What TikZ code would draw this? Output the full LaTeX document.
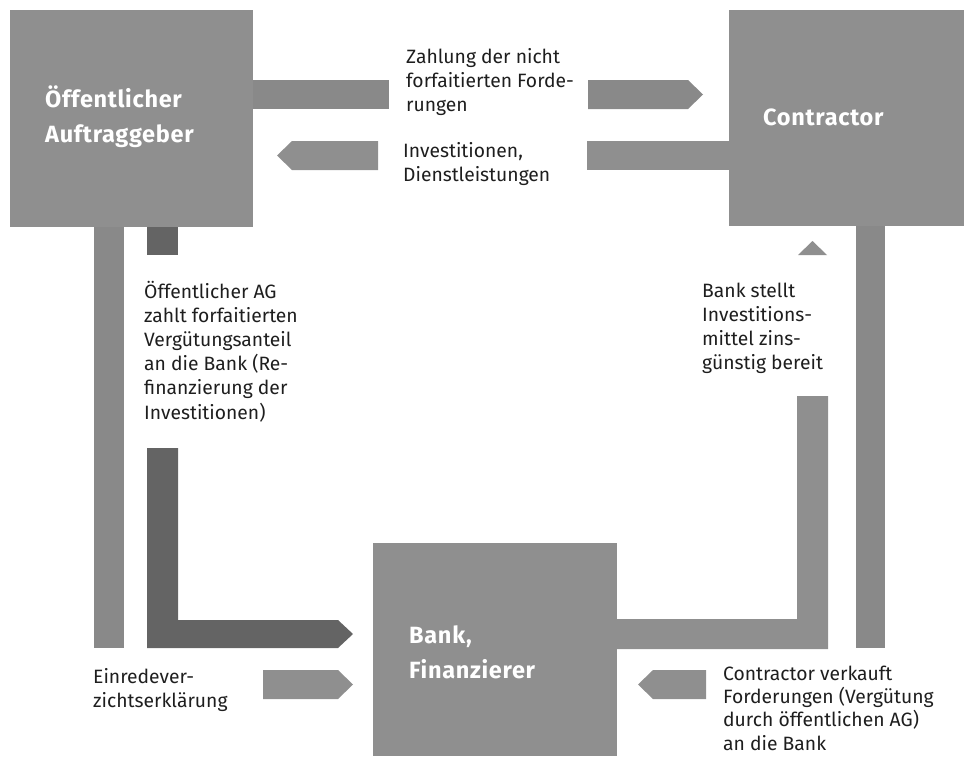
\documentclass[tikz,border=0pt]{standalone}
\usepackage{fontspec}
\setmainfont{Fira Sans}
\newfontfamily\headfont{Fira Sans}[LetterSpace=3]
\definecolor{boxgray}{HTML}{8F8F8F}
\definecolor{bandgray}{HTML}{898989}
\definecolor{darkband}{HTML}{646464}
\definecolor{txt}{HTML}{1E1E1E}
\newcommand{\mlines}[1]{\begin{tabular}[t]{@{}l@{}}#1\end{tabular}}
\begin{document}
\begin{tikzpicture}[x=1pt,y=-1pt,
  box/.style={fill=boxgray,draw=none,inner sep=0pt,outer sep=0pt},
  band/.style={fill=bandgray,draw=none},
  band2/.style={fill=boxgray,draw=none},
  darkb/.style={fill=darkband,draw=none},
  head/.style={anchor=base west,inner sep=0pt,text=white,font=\headfont\bfseries\fontsize{23.5}{35}\selectfont},
  lbl/.style={anchor=base west,inner sep=0pt,text=txt,font=\fontsize{19.3}{24.2}\selectfont}]
\useasboundingbox (0,0) rectangle (964,756);
% boxes
\node[box,minimum width=243pt,minimum height=217pt] (oa) at (131.5,118.5) {};
\node[box,minimum width=235pt,minimum height=216pt] (con) at (846.5,118) {};
\node[box,minimum width=244pt,minimum height=213pt] (bank) at (495,649.5) {};
% box labels
\node[head] (oaT) at (45,107) {\mlines{Öffentlicher\\Auftraggeber}};
\node[head] (conT) at (763,125) {Contractor};
\node[head] (bankT) at (409,643) {\mlines{Bank,\\Finanzierer}};
% top arrow: OA -> Contractor
\fill[band] (oa.east |- 0,80) rectangle (389,109);
\fill[band] (588,80) -- (688,80) -- (703,94.5) -- (688,109) -- (588,109) -- cycle;
% second arrow: Contractor -> OA
\fill[band2] (277,155.5) -- (292,141) -- (378,141) -- (378,170) -- (292,170) -- cycle;
\fill[band2] (587,141) rectangle (con.west |- 0,170);
% left light bar
\fill[band] (94,0 |- oa.south) rectangle (124,648);
% dark stub and dark L arrow to bank
\fill[darkb] (147,0 |- oa.south) rectangle (178,255);
\fill[darkb] (147,448) -- (178,448) -- (178,620) -- (338,620) -- (353,634) -- (338,648) -- (147,648) -- cycle;
% Einrede arrow
\fill[band2] (263,670) -- (338,670) -- (353,684.5) -- (338,699) -- (263,699) -- cycle;
% right outer bar
\fill[band] (856,0 |- con.south) rectangle (885,648);
% J shape from bank up to contractor
\fill[band2] (bank.east |- 0,619) -- (797,619) -- (797,396) -- (828,396) -- (828,649) -- (bank.east |- 0,649) -- cycle;
\fill[band2] (798,255) -- (812.5,241) -- (827,255) -- cycle;
% bottom right arrow: contractor -> bank
\fill[band2] (638,684.5) -- (653,670) -- (706,670) -- (706,699) -- (653,699) -- cycle;
% labels
\node[lbl] (t1) at (406,63) {\mlines{Zahlung der nicht\\forfaitierten Forde-\\rungen}};
\node[lbl] (t2) at (403,157) {\mlines{Investitionen,\\Dienstleistungen}};
\node[lbl] (t3) at (144,298) {\mlines{Öffentlicher AG\\zahlt forfaitierten\\Vergütungsanteil\\an die Bank (Re-\\finanzierung der\\Investitionen)}};
\node[lbl] (t4) at (702,297) {\mlines{Bank stellt\\Investitions-\\mittel zins-\\günstig bereit}};
\node[lbl] (t5) at (93,683) {\mlines{Einredever-\\zichtserklärung}};
\node[lbl,font=\fontsize{19.3}{23.4}\selectfont] (t6) at (723,680) {\mlines{Contractor verkauft\\Forderungen (Vergütung\\durch öffentlichen AG)\\an die Bank}};
\end{tikzpicture}
\end{document}
